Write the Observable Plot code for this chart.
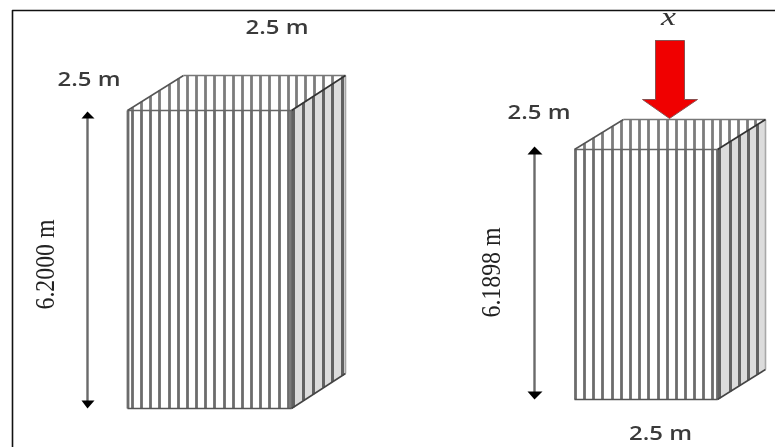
<!DOCTYPE html>
<html><head><meta charset="utf-8">
<style>html,body{margin:0;padding:0;background:#fff;overflow:hidden}svg{display:block;filter:blur(0.55px)}</style>
<script src="https://cdn.jsdelivr.net/npm/d3@7"></script>
<script src="https://cdn.jsdelivr.net/npm/@observablehq/plot@0.6"></script>
</head><body><div id="c"></div>
<script>
const leftBox = {fl:127, fr:291, bl:183, br:345, ft:110, fb:408, bt:75, bb:373};
const rightBox = {fl:574, fr:717, bl:623, br:765, ft:149, fb:399, bt:119, bb:369};
const leftFront = [127.5,132,141,150,159,169,178,187,196,205,214,224,233,242,251,260,269,279,288,291];
const leftTop = [132,141,150,159,169,178,187,196,205,214,224,233,242,251,260,269,279,288,296,305,314,323,332,342];
const leftSide = [293,303,313,323,332,342];
const rightFront = [575,584,593,602,612,621,630,639,648,658,667,676,685,694,703,712,717];
const rightTop = [584,593,602,612,621,630,639,648,658,667,676,685,694,703,712,720,729,738,747,755,763];
const rightSide = [719,730,739,748,757];
const arrows = [{x:87,y1:116,y2:402},{x:534,y1:152,y2:392}];
const arrowHeads = [
  {id:"a",pts:[[81,118],[87,111],[94,118]]},
  {id:"b",pts:[[81,400],[87,408],[94,400]]},
  {id:"c",pts:[[527,154],[534,146],[542,154]]},
  {id:"d",pts:[[527,391],[534,399],[542,391]]}
];
const redArrow = [[655,40],[684,40],[684,99],[697,99],[669,118],[642,99],[655,99],[655,40]];
const labels = [
  {x:276.5,y:27,t:"2.5 m"},{x:88.5,y:79.5,t:"2.5 m"},{x:538.5,y:112.5,t:"2.5 m"},{x:660,y:433.5,t:"2.5 m"}
];
const heightLabels = [{x:45,y:264,t:"6.2000 m"},{x:491,y:272,t:"6.1898 m"}];
const xLabel = [{x:668,y:16,t:"x"}];
const frame = [[12,447],[12,10],[775,10]];

function boxSegments(b, front, top, side){
  const s = [];
  const leftEdge = x => b.ft + (x - b.fl) * (b.bt - b.ft) / (b.bl - b.fl);
  const rightEdge = (x, y0) => y0 + (x - b.fr) * (b.bt - b.ft) / (b.br - b.fr);
  for (const x of top) {
    const y1 = x < b.bl ? leftEdge(x) : b.bt;
    const y2 = x > b.fr ? rightEdge(x, b.ft) : b.ft;
    s.push({x1:x,x2:x,y1,y2,w:2.8,c:"#7c7c7c"});
  }
  for (const x of front) s.push({x1:x,x2:x,y1:b.ft,y2:b.fb,w:2.8,c:"#6c6c6c"});
  for (const x of side) s.push({x1:x,x2:x,y1:rightEdge(x,b.ft),y2:rightEdge(x,b.fb),w:3,c:"#626262"});
  s.push({x1:b.br,x2:b.br,y1:b.bt,y2:b.bb,w:1.6,c:"#a8a8a8"});
  const e = (x1,y1,x2,y2,c,w)=>s.push({x1,y1,x2,y2,w,c});
  e(b.fl,b.ft,b.fr,b.ft,"#666",1.5); e(b.fl,b.fb,b.fr,b.fb,"#555",1.5);
  e(b.fl,b.ft,b.bl,b.bt,"#555",1.5); e(b.bl,b.bt,b.br,b.bt,"#777",1.5);
  e(b.fr,b.ft,b.br,b.bt,"#333",1.7); e(b.fr,b.fb,b.br,b.bb,"#444",1.5);
  return s;
}
const segs = [...boxSegments(leftBox,leftFront,leftTop,leftSide),...boxSegments(rightBox,rightFront,rightTop,rightSide)];
const sidePoly = b => [[b.fr,b.ft],[b.br,b.bt],[b.br,b.bb],[b.fr,b.fb],[b.fr,b.ft]];
const sans = "'Open Sans','Noto Sans',sans-serif";
const serif = "'Liberation Serif',serif";
const px = d=>d[0], py = d=>d[1];

const chart = Plot.plot({
  width:775,height:447,margin:0,
  x:{domain:[0,775],range:[0,775],axis:null},
  y:{domain:[0,447],range:[0,447],axis:null},
  marks:[
    Plot.line(frame,{x:px,y:py,stroke:"#111",strokeWidth:1.6}),
    Plot.line(sidePoly(leftBox),{x:px,y:py,fill:"#dcdcdc",stroke:"none"}),
    Plot.line(sidePoly(rightBox),{x:px,y:py,fill:"#dcdcdc",stroke:"none"}),
    Plot.link(segs,{x1:"x1",y1:"y1",x2:"x2",y2:"y2",stroke:"c",strokeWidth:"w"}),
    Plot.link(arrows,{x1:"x",x2:"x",y1:"y1",y2:"y2",stroke:"#6a6a6a",strokeWidth:2.4}),
    ...arrowHeads.map(h=>Plot.line(h.pts.concat([h.pts[0]]),{x:px,y:py,fill:"#000",stroke:"none"})),
    Plot.line(redArrow,{x:px,y:py,fill:"#f00000",stroke:"#8a5050",strokeWidth:1}),
    Plot.text(labels,{x:"x",y:"y",text:"t",fontFamily:sans,fontSize:19,fontWeight:600,fill:"#3a3a3a"}),
    Plot.text(heightLabels,{x:"x",y:"y",text:"t",fontFamily:serif,fontSize:27,rotate:-90,fill:"#222"}),
    Plot.text(xLabel,{x:"x",y:"y",text:"t",fontFamily:serif,fontStyle:"italic",fontSize:25,fill:"#333"})
  ]
});
d3.select(chart).selectAll("text").each(function(){
  const t = this.textContent;
  const fit = t === "2.5 m" ? 63 : t.startsWith("6.") ? 90 : 15;
  this.setAttribute("textLength",fit);
  this.setAttribute("lengthAdjust","spacingAndGlyphs");
});
document.getElementById("c").append(chart);
</script></body></html>
